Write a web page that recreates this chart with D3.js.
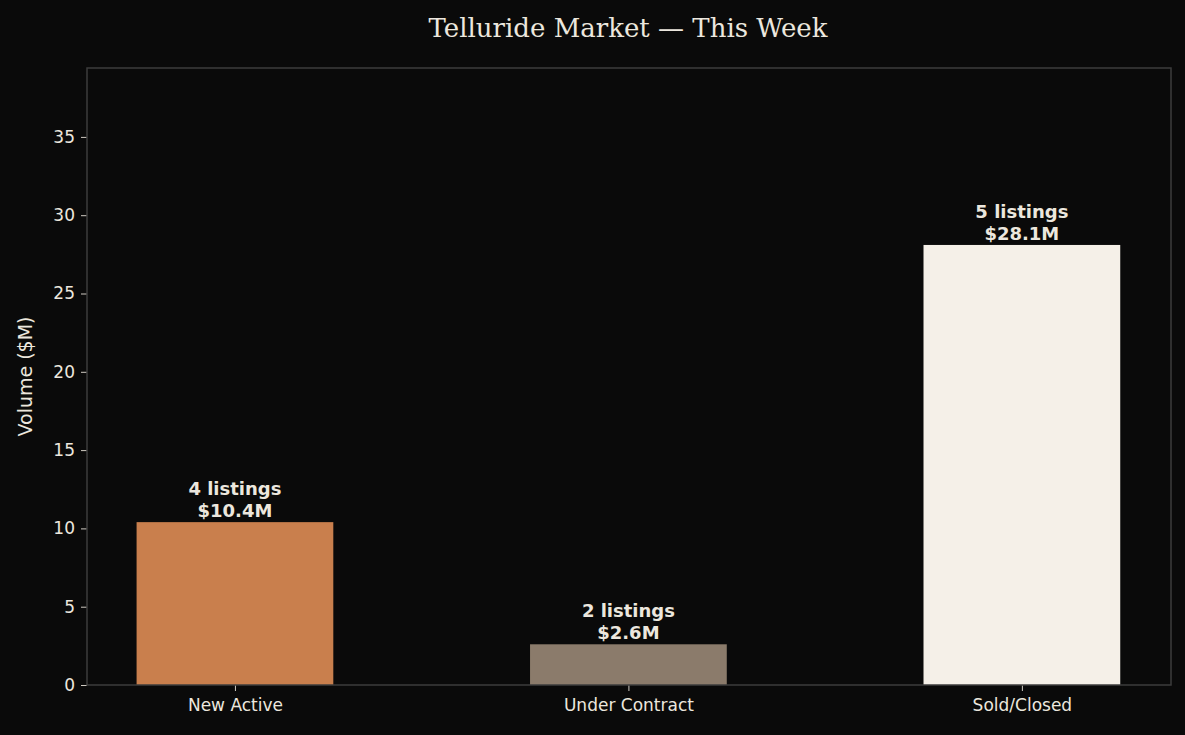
<!DOCTYPE html>
<html><head><meta charset="utf-8">
<script src="https://cdn.jsdelivr.net/npm/d3@7"></script>
<style>
body{margin:0;background:#0a0a0a;}
text{font-family:"DejaVu Sans",sans-serif;}
</style></head>
<body><svg id="chart" width="1185" height="735"></svg>
<script>
const categories = ["New Active", "Under Contract", "Sold/Closed"];
const volumes = [10.4, 2.6, 28.1];
const listings = [4, 2, 5];
const barColors = ["#c97f4d", "#8b7b6b", "#f5f0e8"];
const yTicks = [0, 5, 10, 15, 20, 25, 30, 35];

const svg = d3.select("#chart");
const margin = { top: 68, right: 14, bottom: 50, left: 87 };
const W = 1185, H = 735;
const innerW = W - margin.left - margin.right;
const innerH = H - margin.top - margin.bottom;
const txt = "#ece7de";

svg.append("rect").attr("width", W).attr("height", H).attr("fill", "#0a0a0a");

const g = svg.append("g").attr("transform", `translate(${margin.left},${margin.top})`);

const x = d3.scaleLinear().domain([-0.376, 2.379]).range([0, innerW]);
const y = d3.scaleLinear().domain([0, 39.4]).range([innerH, 0]);
const barW = x(0.5) - x(0);

// bars
g.selectAll("rect.bar").data(volumes).join("rect")
  .attr("class", "bar")
  .attr("x", (d, i) => x(i) - barW / 2)
  .attr("y", d => y(d))
  .attr("width", barW)
  .attr("height", d => innerH - y(d))
  .attr("fill", (d, i) => barColors[i]);

// labels
const lab = g.selectAll("text.lab").data(volumes).join("text")
  .attr("class", "lab")
  .attr("text-anchor", "middle")
  .attr("fill", txt)
  .style("font-size", "18px").style("font-weight", "bold");
lab.append("tspan").attr("x", (d, i) => x(i)).attr("y", d => y(d) - 27)
  .text((d, i) => `${listings[i]} listings`);
lab.append("tspan").attr("x", (d, i) => x(i)).attr("y", d => y(d) - 5)
  .text(d => `$${d.toFixed(1)}M`);

// axes
const yAxis = g.append("g").call(d3.axisLeft(y).tickValues(yTicks).tickSize(6).tickPadding(6));
const xAxis = g.append("g").attr("transform", `translate(0,${innerH})`)
  .call(d3.axisBottom(x).tickValues([0, 1, 2]).tickFormat(i => categories[i]).tickSize(6).tickPadding(8));
[yAxis, xAxis].forEach(a => {
  a.select(".domain").remove();
  a.selectAll("line").attr("stroke", "#cfcac2");
  a.selectAll("text").attr("fill", txt).style("font-size", "17px");
});

// frame
g.append("rect").attr("width", innerW).attr("height", innerH)
  .attr("fill", "none").attr("stroke", "#3c3c3c").attr("stroke-width", 1.5);

svg.append("text").attr("x", margin.left + innerW / 2 - 1).attr("y", 37)
  .attr("text-anchor", "middle").attr("fill", txt)
  .style("font-family", "'DejaVu Serif',serif").style("font-size", "26px")
  .text("Telluride Market — This Week");

svg.append("text")
  .attr("transform", `translate(32,${margin.top + innerH / 2}) rotate(-90)`)
  .attr("text-anchor", "middle").attr("fill", txt).style("font-size", "19px")
  .text("Volume ($M)");
</script></body></html>
